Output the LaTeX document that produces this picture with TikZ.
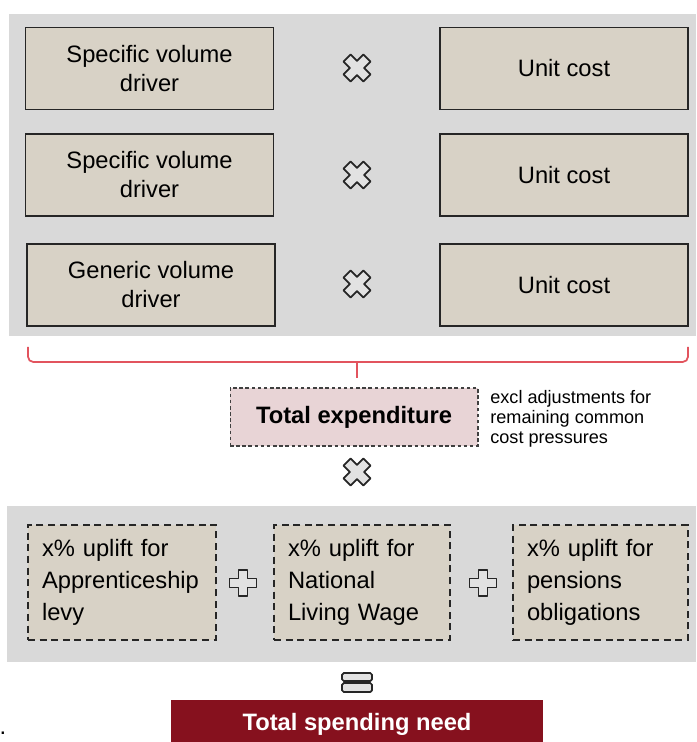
\documentclass[tikz,border=0pt]{standalone}
\usepackage{fontspec}
\setmainfont{Liberation Sans}
\usetikzlibrary{calc}

\definecolor{panelgray}{RGB}{217,217,217}
\definecolor{boxbeige}{RGB}{216,210,198}
\definecolor{boxpink}{RGB}{232,212,214}
\definecolor{needred}{RGB}{134,17,30}
\definecolor{bracered}{RGB}{226,84,94}
\definecolor{symgray}{RGB}{226,226,226}

\tikzset{
  drvbox/.style={draw=black!85, line width=1pt, fill=boxbeige, minimum width=4.96cm,
    minimum height=1.64cm, align=center, font=\fontsize{13.5}{16.5}\selectfont},
  upbox/.style={draw=black!85, line width=1.1pt, dash pattern=on 4pt off 2.6pt, fill=boxbeige,
    minimum height=2.3cm, inner xsep=0.28cm, align=left, font=\fontsize{13.5}{18.2}\selectfont},
  symline/.style={draw=black!85, line width=1pt, fill=symgray, line join=round},
  timessign/.pic={
    \draw[symline, rotate=45] (5,14) -- (-5,14) -- (-5,5) -- (-14,5) -- (-14,-5) -- (-5,-5)
      -- (-5,-14) -- (5,-14) -- (5,-5) -- (14,-5) -- (14,5) -- (5,5) -- cycle;
  },
  plussign/.pic={
    \draw[symline] (4.5,13) -- (-4.5,13) -- (-4.5,4.5) -- (-13.5,4.5) -- (-13.5,-4.5) -- (-4.5,-4.5)
      -- (-4.5,-13) -- (4.5,-13) -- (4.5,-4.5) -- (13.5,-4.5) -- (13.5,4.5) -- (4.5,4.5) -- cycle;
  },
  equalsign/.pic={
    \draw[symline, rounded corners=1pt] (-15,-8) rectangle (15,0);
    \draw[symline, rounded corners=1pt] (-15,2) rectangle (15,11);
  },
}

\begin{document}
\begin{tikzpicture}[x=0.02cm, y=-0.02cm]
  \useasboundingbox (0,0) rectangle (696,742);
  % grey panels behind the two groups
  \fill[panelgray] (9,14) rectangle (696,336);
  \fill[panelgray] (7,506) rectangle (696,662);

  % volume drivers times unit costs
  \node[drvbox] (drv1) at (149.5,68.5) {Specific volume\\driver};
  \node[drvbox] (drv2) at (149.5,175) {Specific volume\\driver};
  \node[drvbox] (drv3) at (151,285) {Generic volume\\driver};
  \node[drvbox] (cost1) at (564,68.5) {Unit cost};
  \node[drvbox] (cost2) at (564,175) {Unit cost};
  \node[drvbox] (cost3) at (564,285) {Unit cost};
  \pic at (357,68) {timessign};
  \pic at (357,175) {timessign};
  \pic at (357,284) {timessign};

  % bracket under the panel
  \draw[bracered, line width=1pt, rounded corners=3pt] (28,347) |- (357,362);
  \draw[bracered, line width=1pt, rounded corners=3pt] (688,347) |- (357,362);
  \draw[bracered, line width=1pt] (357,362) -- (357,378);

  \node[draw=black!75, line width=0.6pt, dash pattern=on 2pt off 1.5pt, fill=boxpink,
    minimum width=4.96cm, minimum height=1.16cm, font=\fontsize{13.5}{16}\selectfont\bfseries]
    (totexp) at (354,417) {Total expenditure};
  \node[anchor=west, align=left, inner sep=0pt, font=\fontsize{10.3}{11.4}\selectfont]
    (excl) at (490,419) {excl adjustments for\\remaining common\\cost pressures};
  \pic at (357,472) {timessign};

  % uplifts
  \node[upbox, text width=3.2cm] (apprent) at (122,582.5) {x\%\ uplift for\\Apprenticeship\\levy};
  \node[upbox, text width=2.96cm] (nlw) at (362,582.5) {x\%\ uplift for\\National\\Living Wage};
  \node[upbox, text width=2.94cm] (pension) at (600.5,582.5) {x\%\ uplift for\\pensions\\obligations};
  \pic at (243,583) {plussign};
  \pic at (483,583) {plussign};

  \pic at (357,681) {equalsign};
  \node[fill=needred, text=white, minimum width=7.44cm, minimum height=0.98cm,
    font=\fontsize{13.5}{16}\selectfont\bfseries] (need) at (357,724.5) {Total spending need};
  \node[inner sep=0pt, font=\fontsize{13.5}{16}\selectfont] (dot) at (3,733) {.};
\end{tikzpicture}
\end{document}
